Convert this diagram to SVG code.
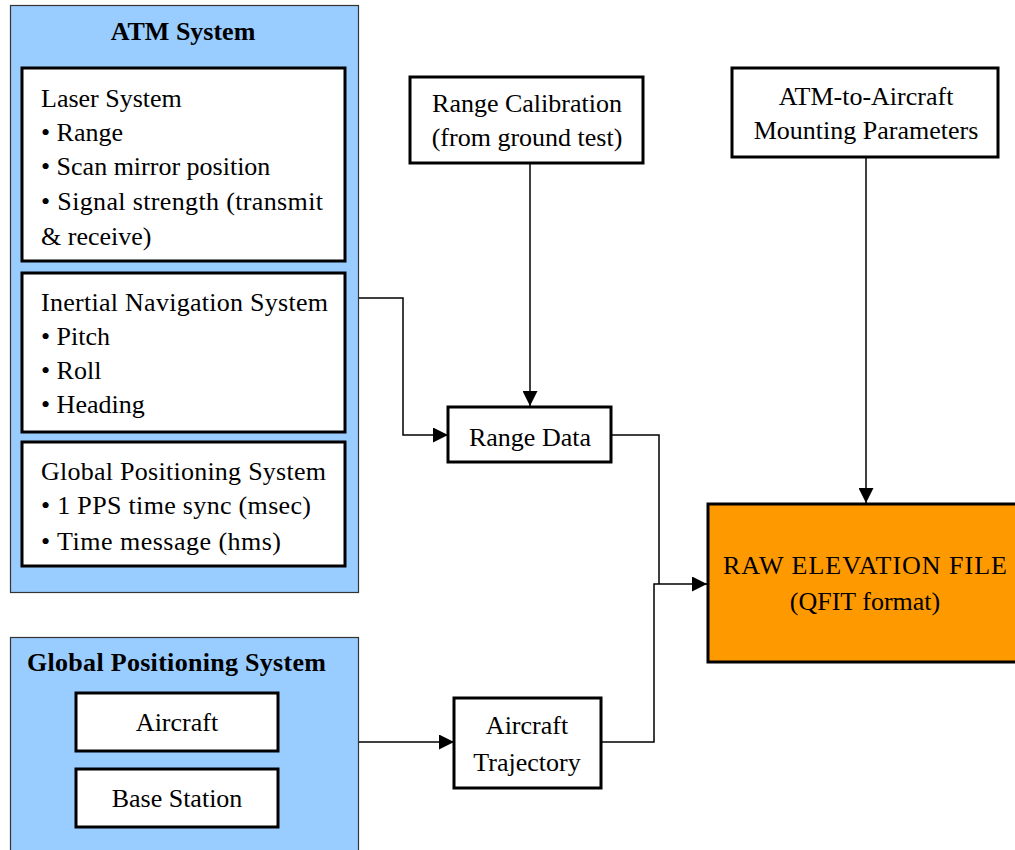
<svg xmlns="http://www.w3.org/2000/svg" width="1015" height="850" viewBox="0 0 1015 850">
<style>
text{font-size:26px;fill:#000}
.b{font-weight:bold}
.m{text-anchor:middle}
.grp{fill:#99CCFF;stroke:#333;stroke-width:1.2}
.box{fill:#fff;stroke:#000;stroke-width:3}
.org{fill:#FF9900;stroke:#000;stroke-width:3}
.c{fill:none;stroke:#000;stroke-width:1.5}
</style>
<defs>
<marker id="arr" markerUnits="userSpaceOnUse" markerWidth="15" markerHeight="15" refX="15" refY="7.5" orient="auto">
<path d="M0,0 L15,7.5 L0,15 z" fill="#000"/>
</marker>
</defs>
<g font-family="'Liberation Serif', 'DejaVu Serif', serif">
<g id="atm-system">
<rect class="grp" x="10.5" y="5.5" width="348" height="587"/>
<text class="b m" x="183" y="40">ATM System</text>
</g>
<g id="laser-system">
<rect class="box" x="22" y="68" width="323" height="193"/>
<text x="41" y="107">Laser System</text>
<text x="41" y="141">• Range</text>
<text x="41" y="175">• Scan mirror position</text>
<text x="41" y="210" textLength="282">• Signal strength (transmit</text>
<text x="41" y="245">&amp; receive)</text>
</g>
<g id="ins">
<rect class="box" x="22" y="273" width="323" height="159"/>
<text x="41" y="311" textLength="287">Inertial Navigation System</text>
<text x="41" y="345">• Pitch</text>
<text x="41" y="379">• Roll</text>
<text x="41" y="413">• Heading</text>
</g>
<g id="gps-inner">
<rect class="box" x="22" y="442" width="323" height="124"/>
<text x="41" y="480" textLength="285">Global Positioning System</text>
<text x="41" y="514" textLength="270">• 1 PPS time sync (msec)</text>
<text x="41" y="550" textLength="240">• Time message (hms)</text>
</g>
<g id="gps-system">
<rect class="grp" x="10.5" y="637.5" width="348" height="220"/>
<text class="b" x="27" y="671" textLength="299">Global Positioning System</text>
</g>
<g id="aircraft">
<rect class="box" x="76" y="693" width="202" height="58"/>
<text class="m" x="177" y="731">Aircraft</text>
</g>
<g id="base-station">
<rect class="box" x="76" y="769" width="202" height="58"/>
<text class="m" x="177" y="807">Base Station</text>
</g>
<g id="range-calibration">
<rect class="box" x="410" y="77" width="233" height="86"/>
<text class="m" x="527" y="112">Range Calibration</text>
<text class="m" x="527" y="146">(from ground test)</text>
</g>
<g id="mounting">
<rect class="box" x="732" y="68" width="266" height="89"/>
<text class="m" x="866" y="105">ATM-to-Aircraft</text>
<text class="m" x="866" y="139">Mounting Parameters</text>
</g>
<g id="range-data">
<rect class="box" x="448" y="407" width="163" height="55"/>
<text class="m" x="530" y="446">Range Data</text>
</g>
<g id="trajectory">
<rect class="box" x="454" y="698" width="147" height="90"/>
<text class="m" x="527" y="734">Aircraft</text>
<text class="m" x="527" y="771">Trajectory</text>
</g>
<g id="raw-elevation">
<rect class="org" x="708" y="504" width="320" height="158"/>
<text class="m" x="865" y="574" textLength="284">RAW ELEVATION FILE</text>
<text class="m" x="865" y="610">(QFIT format)</text>
</g>
</g>
<g id="connectors">
<path class="c" d="M359 298 H403 V435 H448" marker-end="url(#arr)"/>
<path class="c" d="M530 163 V406" marker-end="url(#arr)"/>
<path class="c" d="M611 435 H659 V584"/>
<path class="c" d="M601 742 H654 V584 H707" marker-end="url(#arr)"/>
<path class="c" d="M359 742 H454" marker-end="url(#arr)"/>
<path class="c" d="M866 157 V503" marker-end="url(#arr)"/>
</g>
</svg>
